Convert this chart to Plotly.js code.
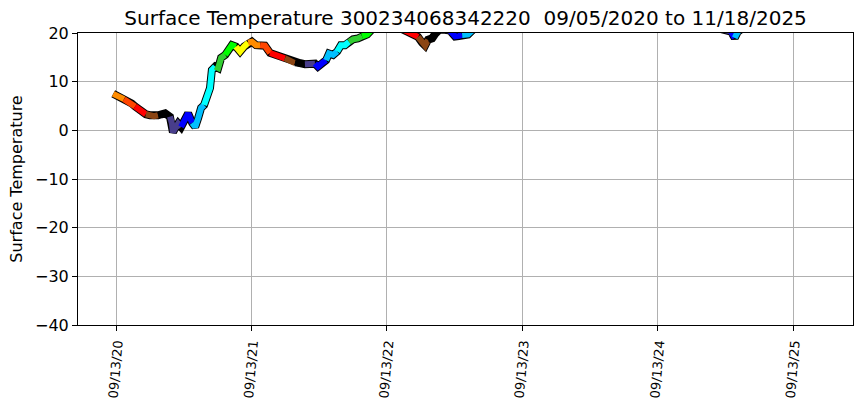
<!DOCTYPE html>
<html>
<head>
<meta charset="utf-8">
<script src="https://cdn.plot.ly/plotly-3.0.1.min.js"></script>
<style>html,body{margin:0;padding:0;background:#fff}#chart{width:863px;height:408px}</style>
</head>
<body>
<div id="chart"></div>
<script>
// Observation dates and surface temperatures (values above 20 are outside the visible range)
const dates = [
 "2020-09-05","2020-09-14","2020-09-23","2020-10-04","2020-10-15","2020-10-25","2020-11-03","2020-11-12","2020-11-22",
 "2020-12-02","2020-12-13","2020-12-24","2021-01-04","2021-01-13","2021-01-23","2021-02-05","2021-02-10","2021-02-13",
 "2021-02-17","2021-02-21","2021-02-27","2021-03-07","2021-03-12","2021-03-18","2021-03-26","2021-04-06","2021-04-14",
 "2021-04-22","2021-04-30","2021-05-08","2021-05-16","2021-05-24","2021-05-29","2021-06-07","2021-06-15","2021-06-23",
 "2021-07-04","2021-07-14","2021-07-22","2021-08-02","2021-08-13","2021-08-24","2021-09-04","2021-09-14","2021-09-25",
 "2021-10-06","2021-10-19","2021-11-02","2021-11-15","2021-11-29","2021-12-12","2021-12-26","2022-01-08","2022-01-22",
 "2022-02-04","2022-02-18","2022-03-03","2022-03-11","2022-03-22","2022-04-02","2022-04-10","2022-04-21","2022-05-02",
 "2022-05-12","2022-05-23","2022-06-03","2022-06-14","2022-06-27","2022-07-08","2022-07-22","2022-08-02","2022-08-26",
 "2022-10-05","2022-11-01","2022-11-20","2022-12-06","2022-12-17","2022-12-25","2023-01-02","2023-01-13","2023-01-21",
 "2023-02-03","2023-03-02","2023-03-10","2023-03-16","2023-03-26","2023-04-04","2023-04-20","2023-05-01","2023-06-15",
 "2023-09-15","2023-12-15","2024-03-15","2024-06-15","2024-09-15","2024-12-15","2025-02-20","2025-03-29","2025-04-08",
 "2025-04-16","2025-06-15","2025-09-15","2025-11-18"
];
const temps = [
 7.5,7.2,6.9,6.4,5.9,5.5,4.9,4.3,3.8,
 3.3,3.1,2.9,3.1,3.3,3.5,2.8,1.5,-0.4,
 0.2,0.5,1.4,0.7,1.6,2.5,3.5,1.5,0.7,
 2.5,4.6,5.2,6.9,8.7,12.4,13.1,12.8,14.9,
 15.5,16.8,17.5,17.2,16.2,17.2,18.0,18.2,17.5,
 17.5,17.4,15.9,15.5,15.1,14.8,14.4,13.8,13.8,
 13.6,13.8,13.7,13.1,13.8,14.4,15.8,15.5,16.2,
 17.5,17.5,18.2,18.7,18.9,19.3,19.7,20.6,22.0,
 21.5,20.5,19.8,19.2,18.0,17.4,18.6,18.9,19.8,
 20.8,20.5,19.6,19.3,19.4,19.6,19.7,20.5,26.0,
 27.0,24.0,22.0,25.0,27.0,23.0,21.0,20.3,19.0,
 20.2,24.0,27.0,25.0
];
// Month (0=Jan .. 11=Dec) colour key
const monthColors = ["#000000","#483d8b","#0000ff","#00bfff","#00ffff","#32cd32",
                     "#00ff00","#ffff00","#ff8c00","#ff4500","#ff0000","#8b4513"];
const tickVals = ["2020-09-13","2021-09-13","2022-09-13","2023-09-13","2024-09-13","2025-09-13"];
const tickText = ["09/13/20","09/13/21","09/13/22","09/13/23","09/13/24","09/13/25"];

const traces = [{
  x: dates, y: temps, mode: "lines", type: "scatter",
  line: {color: "#000000", width: 8, shape: "linear"}, hoverinfo: "skip", showlegend: false
}];
let i = 0;
while (i < dates.length) {
  const m = parseInt(dates[i].slice(5,7),10) - 1;
  const xs = [], ys = [];
  let j = i;
  while (j < dates.length && parseInt(dates[j].slice(5,7),10) - 1 === m) { xs.push(dates[j]); ys.push(temps[j]); j++; }
  if (j < dates.length) { xs.push(dates[j]); ys.push(temps[j]); }
  if (xs.length === 1) { xs.push(xs[0]); ys.push(ys[0]); }
  traces.push({x: xs, y: ys, mode: "lines", type: "scatter",
    line: {color: monthColors[m], width: 6}, showlegend: false});
  i = j;
}

const font = "DejaVu Sans, sans-serif";
const layout = {
  width: 863, height: 408,
  margin: {l: 78, r: 10, t: 33, b: 83},
  paper_bgcolor: "#fff", plot_bgcolor: "#fff",
  title: {text: "Surface Temperature 300234068342220 \u00a009/05/2020 to 11/18/2025",
          font: {family: font, size: 20, color: "#000"}, x: 0.5395, xanchor: "center", y: 0.955, yanchor: "middle"},
  xaxis: {type: "date", range: ["2020-06-02","2026-02-21"], tickvals: tickVals, ticktext: tickText,
          tickangle: -85, tickfont: {family: font, size: 13, color: "#000"},
          showgrid: true, gridcolor: "#b0b0b0", gridwidth: 1,
          showline: true, linecolor: "#000", linewidth: 1, mirror: true,
          ticks: "outside", ticklen: 5, tickcolor: "#000", zeroline: false},
  yaxis: {range: [-40, 20], tickvals: [-40,-30,-20,-10,0,10,20],
          ticktext: ["\u221240","\u221230","\u221220","\u221210","0","10","20"],
          tickfont: {family: font, size: 16, color: "#000"},
          title: {text: "Surface Temperature", font: {family: font, size: 16, color: "#000"}, standoff: 8},
          showgrid: true, gridcolor: "#b0b0b0", gridwidth: 1,
          showline: true, linecolor: "#000", linewidth: 1, mirror: true,
          ticks: "outside", ticklen: 5, tickcolor: "#000", zeroline: false}
};
Plotly.newPlot("chart", traces, layout, {displayModeBar: false, staticPlot: true});
</script>
</body>
</html>
